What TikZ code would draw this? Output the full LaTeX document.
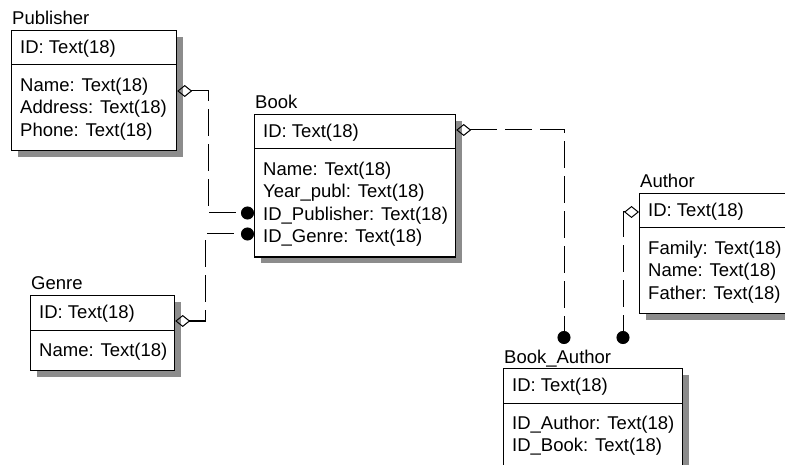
\documentclass[tikz,border=0pt]{standalone}
\usepackage{fontspec}
\setmainfont{Liberation Sans}
\usetikzlibrary{arrows.meta,shadows}

% one table: name, top-left corner, width, number of fields, title, key, fields
\newcommand\erent[7]{%
  \node[tbl, minimum width=#3, minimum height={52.5pt+22.5pt*#4}] (#1) at #2 {};
  \draw[tblrule] ([yshift=-35pt]#1.north west) coordinate (#1-sep) -- ([yshift=-35pt]#1.north east);
  \node[tbltitle] (#1-title) at ([shift={(1pt,5pt)}]#1.north west) {#5};
  \node[keytext] (#1-key) at ([shift={(9pt,-18.5pt)}]#1.north west) {#6};
  \node[tblrows] (#1-rows) at ([shift={(9pt,-12.5pt)}]#1-sep) {#7};
}

\begin{document}
\begin{tikzpicture}[x=1pt,y=1pt,
  font=\fontsize{18.5}{22.5}\selectfont,
  tbl/.style={draw,line width=1.2pt,fill=white,anchor=north west,inner sep=0pt,
    drop shadow={shadow xshift=6pt,shadow yshift=-6pt,fill=black!45,opacity=1}},
  tblrule/.style={line width=1pt},
  tbltitle/.style={anchor=base west,inner sep=0pt},
  keytext/.style={anchor=west,inner sep=0pt},
  tblrows/.style={anchor=north west,align=left,inner sep=0pt},
  rel/.style={dash pattern=on 27pt off 8pt,line width=1pt},
  one/.style={rel,{Diamond[open,length=15pt,width=12pt]}-{Circle[length=13pt]}}]
  \path[use as bounding box,fill=white] (0,0) rectangle (785,-465);
  \clip (0,0) rectangle (785,-465);

  \erent{pub}{(11,-30)}{165pt}{3}{Publisher}{ID: Text(18)}%
    {Name: Text(18)\\Address: Text(18)\\Phone: Text(18)}
  \erent{book}{(254,-114)}{201pt}{4}{Book}{ID: Text(18)}%
    {Name: Text(18)\\Year\_publ: Text(18)\\ID\_Publisher: Text(18)\\ID\_Genre: Text(18)}
  \erent{genre}{(30,-295)}{144pt}{1}{Genre}{ID: Text(18)}{Name: Text(18)}
  \erent{author}{(639,-193)}{170pt}{3}{Author}{ID: Text(18)}%
    {Family: Text(18)\\Name: Text(18)\\Father: Text(18)}
  \erent{ba}{(503,-368)}{179pt}{2}{Book\_Author}{ID: Text(18)}%
    {ID\_Author: Text(18)\\ID\_Book: Text(18)}

  \coordinate (ba-in1) at ([shift={(61pt,24pt)}]ba.north west);
  \coordinate (ba-in2) at ([shift={(120pt,24pt)}]ba.north west);

  \draw[one] ([yshift=-61pt]pub.north east) -- ++(31,0) |- ([yshift=-99pt]book.north west);
  \draw[one] ([yshift=-26pt]genre.north east) -- ++(30,0) |- ([yshift=-120pt]book.north west);
  \draw[one] ([yshift=-16pt]book.north east) -| (ba-in1);
  \draw[one] ([yshift=-19pt]author.north west) -| (ba-in2);
\end{tikzpicture}
\end{document}
